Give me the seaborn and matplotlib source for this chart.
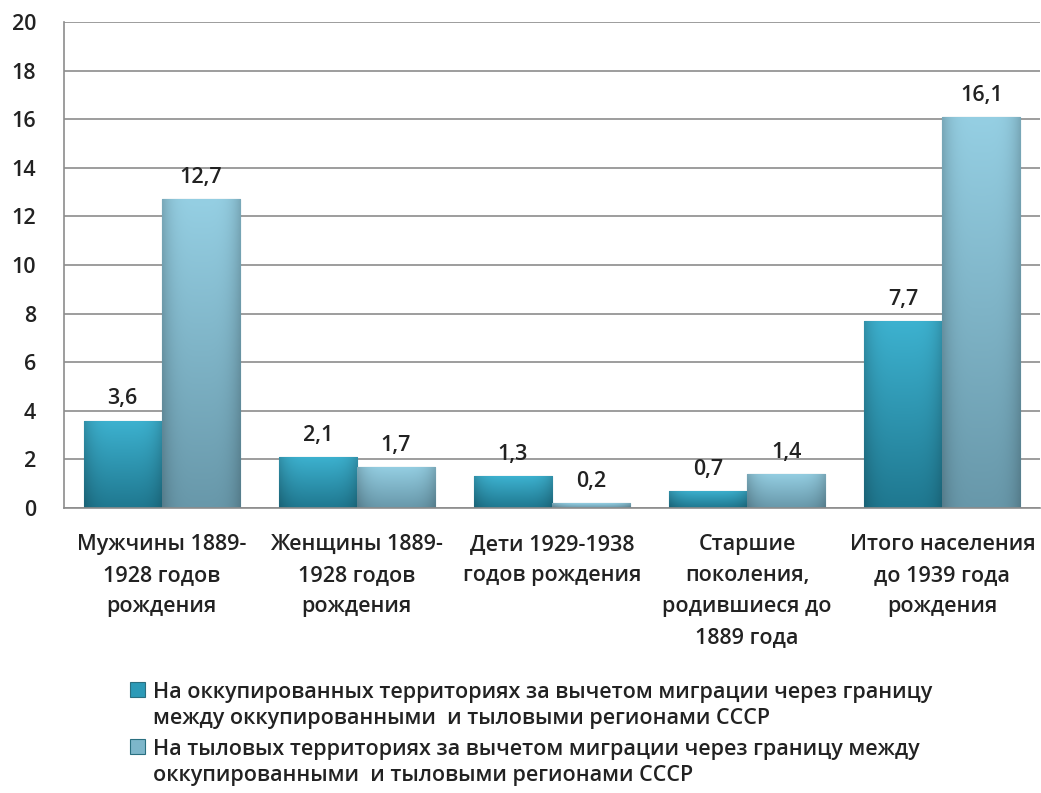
import pandas as pd
import matplotlib.pyplot as plt
import seaborn as sns
import numpy as np
from matplotlib.patches import Patch

categories = ["Мужчины 1889-\n1928 годов\nрождения",
              "Женщины 1889-\n1928 годов\nрождения",
              "Дети 1929-1938\nгодов рождения",
              "Старшие\nпоколения,\nродившиеся до\n1889 года",
              "Итого населения\nдо 1939 года\nрождения"]
occupied = [3.6, 2.1, 1.3, 0.7, 7.7]
rear = [12.7, 1.7, 0.2, 1.4, 16.1]
series = ["На оккупированных территориях за вычетом миграции через границу\nмежду оккупированными  и тыловыми регионами СССР",
          "На тыловых территориях за вычетом миграции через границу между\nоккупированными  и тыловыми регионами СССР"]

df = pd.DataFrame({"cat": categories * 2,
                   "val": occupied + rear,
                   "series": [series[0]] * 5 + [series[1]] * 5})

sns.set_style("white")
plt.rcParams['font.family'] = ['Open Sans', 'DejaVu Sans']
plt.rcParams['font.weight'] = 'semibold'
colors = ["#2C9AB7", "#7DB6CA"]
# top / bottom colours for the bar gradient
grads = [("#3DB2D0", "#1F7890"), ("#95CFE3", "#6898AA")]
fs = 15.5
txt = "#222222"

fig = plt.figure(figsize=(10.41, 7.93), dpi=100)
ax = fig.add_axes([0.0615, 0.3594, 0.9375, 0.6129])
sns.barplot(data=df, x="cat", y="val", hue="series", palette=colors,
            width=0.8, saturation=1, ax=ax, legend=False,
            edgecolor="#2A6F80", linewidth=0.8)

# gradient fill clipped to each bar
for cont, (top, bot) in zip(ax.containers, grads):
    t = np.array(plt.matplotlib.colors.to_rgb(top))
    b = np.array(plt.matplotlib.colors.to_rgb(bot))
    for bar in cont:
        x, w, h = bar.get_x(), bar.get_width(), bar.get_height()
        v = np.linspace(0, 1, 100)[:, None, None]
        u = np.linspace(0, 1, 40)[None, :, None]
        img = t * (1 - v) + b * v
        img = img * (1 - 0.18 * np.abs(2 * u - 1) ** 4)
        im = ax.imshow(np.clip(img, 0, 1), extent=[x, x + w, 0, h], aspect="auto",
                       zorder=bar.get_zorder(), interpolation="bilinear")
        im.set_clip_path(bar)

# data labels with comma decimals
for cont in ax.containers:
    labs = [f"{b.get_height():.1f}".replace(".", ",") for b in cont]
    ax.bar_label(cont, labels=labs, padding=8, fontsize=fs, color=txt)

ax.set_ylim(0, 20)
ax.set_yticks(range(0, 21, 2))
ax.set_xlim(-0.5, 4.5)
ax.yaxis.grid(True, color="#8C8C8C", linewidth=1.2)
ax.set_axisbelow(True)
ax.set_xlabel("")
ax.set_ylabel("")
for s in ["top", "right"]:
    ax.spines[s].set_visible(False)
for s in ["left", "bottom"]:
    ax.spines[s].set_color("#8C8C8C")
    ax.spines[s].set_linewidth(1.2)
ax.tick_params(axis="y", length=8, color="#8C8C8C", labelsize=fs, labelcolor=txt, pad=12)
ax.tick_params(axis="x", which="major", length=0, labelsize=fs, labelcolor=txt, pad=19)
ax.set_xticks(np.arange(-0.5, 5, 1), minor=True)
ax.tick_params(axis="x", which="minor", length=6, color="#8C8C8C")
for t in ax.get_xticklabels():
    t.set_linespacing(1.62)

handles = [Patch(facecolor=c, edgecolor="#2A6F80", linewidth=0.8) for c in colors]
leg = fig.legend(handles, series, loc="upper left", bbox_to_anchor=(0.106, 0.165),
                 frameon=False, fontsize=fs, handlelength=0.7, handleheight=0.7,
                 handletextpad=0.4, labelspacing=0.45, labelcolor=txt)
for t in leg.get_texts():
    t.set_linespacing(1.35)
# put the marker next to the first line of each entry
for col in leg._legend_handle_box.get_children():
    for row in col.get_children():
        row.align = "top"

fig.savefig("out.png", dpi=100)
